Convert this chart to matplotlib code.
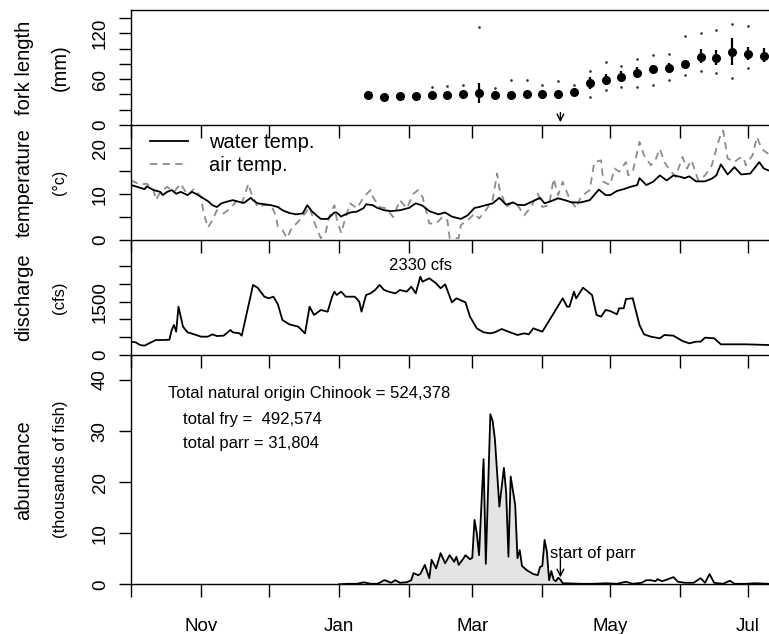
import numpy as np
import matplotlib
matplotlib.use("Agg")
import matplotlib.pyplot as plt

plt.rcParams['font.family'] = ['Liberation Sans', 'DejaVu Sans']

# x axis: days since Oct 1
month_days = [0, 31, 61, 92, 123, 151, 182, 212, 243, 273]
month_labels = ['', 'Nov', '', 'Jan', '', 'Mar', '', 'May', '', 'Jul']
x_max = 282.3
parr_day = 190

# weekly fork length (mm)
fl_day = [105, 112, 119, 126, 133, 140, 147, 154, 161, 168, 175, 182, 189,
          196, 203, 210, 217, 224, 231, 238, 245, 252, 259, 266, 273, 280]
fl_mean = [39.3, 37.1, 38.4, 38.4, 39.3, 39.3, 40.2, 41.5, 39.3, 39.3, 40.2, 40.2, 40.6,
           43.7, 54.6, 59.0, 63.3, 67.7, 73.4, 75.1, 79.9, 88.7, 87.4, 96.0, 93.0, 90.8]
nan = np.nan
fl_lo = [nan] * 7 + [28.4] + [nan] * 6 + [46.7, 52.4, 56.7, 61.1, 67.7, 67.7,
                                          74.2, 80.8, 78.5, 78.5, 85.1, 82.9]
fl_hi = [nan] * 7 + [54.6] + [nan] * 6 + [62.4, 66.8, 71.1, 76.3, 78.5, 80.8,
                                          85.1, 99.1, 98.2, 113.5, 102.5, 100.4]
fl_max = [nan, nan, nan, nan, 49.3, 51.1, 52.4, 128.0, 48.0, 59.0, 59.0, 52.4, 58.0,
          52.4, 71.2, 83.0, 77.3, 86.0, 91.7, 92.6, 116.6, 120.0, 124.5, 132.3, 129.7, nan]
fl_min = [nan] * 14 + [37.1, 45.9, 49.3, 49.3, 52.4, 59.0, 65.5, 71.2, 68.5, 62.0, 74.2, nan]

# water temperature (C)
wt_day = [0, 4, 6, 7, 10, 13, 14, 16, 18, 20, 22, 25, 27, 29, 31, 34, 36, 38, 40, 42,
          45, 48, 50, 53, 54, 56, 59, 62, 65, 67, 70, 73, 76, 78, 80, 82, 84, 87, 90, 91,
          93, 94, 97, 100, 103, 104, 107, 109, 112, 115, 119, 123, 126, 129, 132, 136,
          139, 142, 146, 149, 152, 154, 157, 160, 163, 166, 169, 171, 174, 178, 181, 183,
          186, 189, 192, 195, 199, 203, 207, 210, 212, 215, 218, 221, 224, 225, 228, 231,
          234, 237, 240, 243, 245, 247, 250, 254, 257, 259, 261, 264, 267, 270, 274, 278,
          280, 282]
water_temp = [12.0, 11.4, 11.1, 11.7, 10.9, 10.5, 9.8, 10.5, 10.9, 10.1, 10.5, 9.8, 10.5,
              10.0, 9.4, 8.5, 7.6, 7.2, 8.0, 8.3, 8.7, 8.3, 8.1, 9.2, 8.7, 8.0, 7.8, 7.6,
              7.2, 6.5, 5.9, 5.6, 5.8, 7.6, 6.3, 5.4, 4.6, 4.6, 6.0, 6.0, 5.1, 5.4, 6.0,
              6.2, 7.0, 7.8, 7.6, 7.0, 6.5, 6.3, 6.5, 7.0, 8.0, 7.5, 6.3, 5.6, 6.0, 5.1,
              4.6, 5.4, 7.0, 7.2, 7.6, 8.0, 9.2, 7.7, 8.2, 7.7, 7.6, 8.5, 9.2, 8.0, 8.5,
              9.1, 8.7, 8.2, 8.2, 8.7, 11.0, 9.8, 9.8, 10.7, 11.1, 11.6, 12.0, 13.5, 12.0,
              12.7, 14.1, 13.0, 14.1, 13.8, 13.5, 13.9, 12.8, 12.8, 13.4, 14.1, 16.5, 14.3,
              15.9, 14.3, 14.5, 17.0, 15.6, 15.2]

# air temperature (C)
at_day = [0, 4, 7, 10, 11, 13, 16, 19, 22, 25, 28, 31, 32, 34, 36, 38, 41, 44, 47, 49,
          52, 53, 56, 59, 62, 64, 65, 67, 69, 71, 74, 77, 79, 81, 84, 86, 88, 90, 91, 93,
          95, 97, 100, 103, 106, 107, 110, 113, 116, 119, 122, 125, 127, 129, 132, 135,
          138, 140, 141, 145, 146, 149, 152, 154, 157, 160, 162, 163, 166, 169, 171, 174,
          177, 180, 182, 185, 187, 189, 191, 194, 197, 199, 203, 205, 208, 209, 212, 214,
          216, 219, 220, 222, 225, 227, 230, 232, 234, 236, 239, 241, 244, 246, 248, 251,
          254, 257, 259, 261, 262, 264, 267, 269, 271, 272, 275, 277, 279, 282]
air_temp = [13.0, 12.1, 12.3, 10.9, 8.7, 10.5, 11.6, 10.5, 12.3, 9.8, 11.2, 9.4, 6.2, 2.7,
            4.3, 6.5, 5.8, 6.9, 8.7, 8.0, 12.3, 10.5, 7.2, 7.6, 7.6, 5.4, 2.9, 2.2, 0.4,
            2.5, 4.0, 5.8, 7.2, 4.0, 0.4, 1.5, 5.4, 7.6, 4.7, 1.5, 5.1, 8.0, 6.9, 9.4,
            10.9, 9.4, 7.2, 6.9, 5.0, 8.7, 6.9, 10.1, 10.9, 9.4, 3.6, 3.6, 5.1, 4.3, 0.4,
            0.4, 3.3, 4.3, 5.8, 4.7, 6.5, 8.7, 14.5, 11.2, 7.2, 8.3, 7.6, 5.4, 7.2, 10.1,
            7.2, 7.6, 13.4, 9.8, 12.7, 9.1, 6.9, 9.4, 10.9, 17.0, 17.4, 12.7, 12.0, 15.6,
            14.9, 17.0, 14.1, 14.9, 21.4, 18.5, 16.3, 17.4, 19.9, 17.0, 14.9, 13.8, 18.1,
            15.6, 17.4, 13.0, 14.1, 16.3, 19.9, 23.2, 23.9, 17.8, 17.0, 17.8, 18.1, 16.3,
            18.5, 22.5, 19.9, 18.8]

# discharge (cfs)
q_day = [0, 2, 4, 6, 8, 11, 14, 17, 18, 19, 20, 21, 23, 25, 28, 31, 34, 36, 38, 41, 44,
         45, 48, 49, 54, 56, 59, 61, 63, 65, 67, 70, 74, 77, 79, 81, 84, 87, 89, 90, 91,
         93, 95, 99, 101, 102, 104, 106, 108, 110, 112, 114, 117, 119, 122, 124, 126, 128,
         129, 132, 135, 137, 139, 142, 144, 148, 150, 153, 156, 159, 161, 164, 167, 171,
         174, 176, 178, 182, 187, 191, 193, 194, 196, 197, 200, 204, 206, 208, 210, 212,
         215, 216, 218, 219, 222, 225, 227, 230, 234, 236, 240, 244, 247, 250, 252, 254,
         258, 261, 267, 272, 282]
discharge = [374, 356, 281, 262, 328, 421, 421, 430, 702, 843, 655, 1357, 796, 637, 580,
             515, 515, 580, 533, 543, 702, 637, 608, 543, 1966, 1891, 1638, 1592, 1638, 1423,
             983, 862, 796, 608, 1357, 1124, 1264, 1217, 1638, 1779, 1685, 1779, 1638, 1638,
             1498, 1217, 1685, 1732, 1826, 1966, 1826, 1779, 1732, 1826, 1779, 1919, 1732,
             2200, 2060, 2154, 2013, 1873, 1985, 1479, 1592, 1479, 1077, 749, 637, 608, 637,
             730, 655, 562, 608, 580, 749, 655, 1170, 1592, 1357, 1357, 1779, 1592, 1891,
             1685, 1124, 1077, 1264, 1236, 1143, 1311, 1311, 1573, 1592, 843, 580, 515, 469,
             562, 543, 393, 328, 374, 374, 487, 469, 300, 300, 300, 281]

# abundance (thousands of fish)
ab_day = [92, 96, 100, 103, 106, 109, 110, 112, 113, 115, 117, 119, 122, 124, 125, 127,
          128, 130, 132, 133, 135, 137, 139, 141, 143, 144, 145, 147, 148, 150, 151, 152,
          153, 154, 156, 157, 159, 160, 161, 163, 165, 166, 167, 168, 170, 171, 172, 173,
          175, 178, 180, 181, 182, 183, 184, 185, 186, 187, 188, 189, 190, 191, 192, 199,
          205, 210, 215, 219, 222, 226, 228, 230, 232, 233, 235, 237, 240, 242, 245, 249,
          252, 254, 256, 258, 262, 265, 267, 272, 276, 282]
abundance = [0.0, 0.1, 0.1, 0.4, 0.1, 0.1, 0.3, 0.8, 0.7, 0.3, 0.8, 0.3, 0.4, 0.8, 2.2,
             1.8, 2.0, 3.8, 1.2, 4.8, 3.1, 6.1, 4.1, 5.7, 4.4, 5.4, 3.8, 5.0, 5.7, 4.9, 5.2,
             12.6, 10.0, 5.7, 24.5, 4.0, 33.3, 32.0, 28.5, 15.2, 22.8, 18.0, 5.4, 21.1, 15.5,
             5.1, 6.7, 3.6, 2.8, 2.0, 1.8, 3.4, 3.6, 8.7, 6.4, 0.8, 2.6, 0.9, 0.6, 1.3, 0.9,
             0.2, 0.2, 0.1, 0.1, 0.2, 0.1, 0.5, 0.1, 0.3, 0.8, 0.8, 0.6, 1.0, 0.6, 0.9, 1.4,
             0.5, 0.3, 0.3, 1.2, 0.3, 2.0, 0.3, 0.1, 0.7, 0.1, 0.1, 0.2, 0.1]

W, H = 769, 634
fig = plt.figure(figsize=(W / 100, H / 100), dpi=100)


def add_panel(top_px, bottom_px):
    return fig.add_axes([131 / W, 1 - bottom_px / H, 1 - 131 / W, (bottom_px - top_px) / H],
                        facecolor='none')


ax_fl = add_panel(10, 125)
ax_t = add_panel(125, 240)
ax_q = add_panel(240, 355)
ax_a = add_panel(355, 584.3)
axes = [ax_fl, ax_t, ax_q, ax_a]

for ax in axes:
    ax.set_xlim(0, x_max)
    ax.set_xticks(month_days)
    ax.set_xticklabels(month_labels)
    ax.tick_params(direction='out', length=9, width=1.0, labelsize=13.5, pad=15)
    ax.tick_params(axis='y', labelrotation=90, pad=7)
    ax.spines['right'].set_visible(False)
    if ax is not ax_fl:
        ax.spines['top'].set_visible(False)
    for s in ax.spines.values():
        s.set_linewidth(1.0)
    if ax is not ax_a:
        ax.tick_params(axis='x', labelbottom=False)
    for lab in ax.get_yticklabels():
        lab.set_va('center')

# fork length
ax_fl.set_ylim(0, 150.5)
ax_fl.set_yticks([0, 20, 40, 60, 80, 100, 120, 140])
ax_fl.set_yticklabels(['0', '', '', '60', '', '', '120', ''])
ax_fl.vlines(fl_day, fl_lo, fl_hi, color='black', lw=1.6)
ax_fl.plot(fl_day, fl_mean, 'o', color='black', ms=5.5)
ax_fl.plot(fl_day, fl_max, '.', color='#333333', ms=1.8)
ax_fl.plot(fl_day, fl_min, '.', color='#333333', ms=1.8)
ax_fl.annotate('', xy=(parr_day, 0), xytext=(parr_day, 20), annotation_clip=False,
               arrowprops=dict(arrowstyle='->', lw=1.0, color='black', mutation_scale=12))

# temperature
ax_t.set_ylim(0, 25.1)
ax_t.set_yticks([0, 5, 10, 15, 20])
ax_t.set_yticklabels(['0', '', '10', '', '20'])
l_air, = ax_t.plot(at_day, air_temp, color='#8c8c8c', lw=1.3, ls=(0, (4, 3)),
                   label='air temp.')
l_water, = ax_t.plot(wt_day, water_temp, color='black', lw=1.3, label='water temp.')
ax_t.legend(handles=[l_water, l_air], loc='upper left', bbox_to_anchor=(0.03, 0.93),
            frameon=False, fontsize=14.5, handlelength=1.9, handletextpad=1.0,
            labelspacing=0.2, borderpad=0, borderaxespad=0)

# discharge
ax_q.set_ylim(0, 3230)
ax_q.set_yticks([0, 500, 1000, 1500, 2000, 2500])
ax_q.set_yticklabels(['0', '', '', '1500', '', ''])
ax_q.plot(q_day, discharge, color='black', lw=1.3)
ax_q.text(128, 2510, '2330 cfs', fontsize=12, ha='center', va='center')

# abundance
ab_day_arr = np.array(ab_day)
ab_arr = np.array(abundance)
ax_a.set_ylim(0, 44.9)
ax_a.set_yticks([0, 10, 20, 30, 40])
ax_a.fill_between(ab_day_arr, 0, ab_arr, where=ab_day_arr <= 192, color='#e4e4e4', lw=0)
ax_a.plot(ab_day, abundance, color='black', lw=1.3)
ax_a.text(16.4, 37.4, 'Total natural origin Chinook = 524,378', fontsize=12, va='center')
ax_a.text(22.9, 32.3, 'total fry =  492,574', fontsize=12, va='center')
ax_a.text(22.9, 27.6, 'total parr = 31,804', fontsize=12, va='center')
ax_a.text(185.4, 6.1, 'start of parr', fontsize=12, va='center')
ax_a.annotate('', xy=(parr_day, 0.8), xytext=(parr_day, 5.7),
              arrowprops=dict(arrowstyle='->', lw=1.0, color='black', mutation_scale=12))

# y labels
labels = [('fork length', '(mm)', 14.5, 67.5), ('temperature', '(°c)', 11.5, 182.5),
          ('discharge', '(cfs)', 12, 297.5), ('abundance', '(thousands of fish)', 12, 469.7)]
for main, sub, sub_size, yc in labels:
    fig.text(24 / W, 1 - yc / H, main, rotation=90, fontsize=14.5, ha='center', va='center')
    fig.text(60 / W, 1 - yc / H, sub, rotation=90, fontsize=sub_size, ha='center', va='center')

fig.savefig('out.png', dpi=100)
